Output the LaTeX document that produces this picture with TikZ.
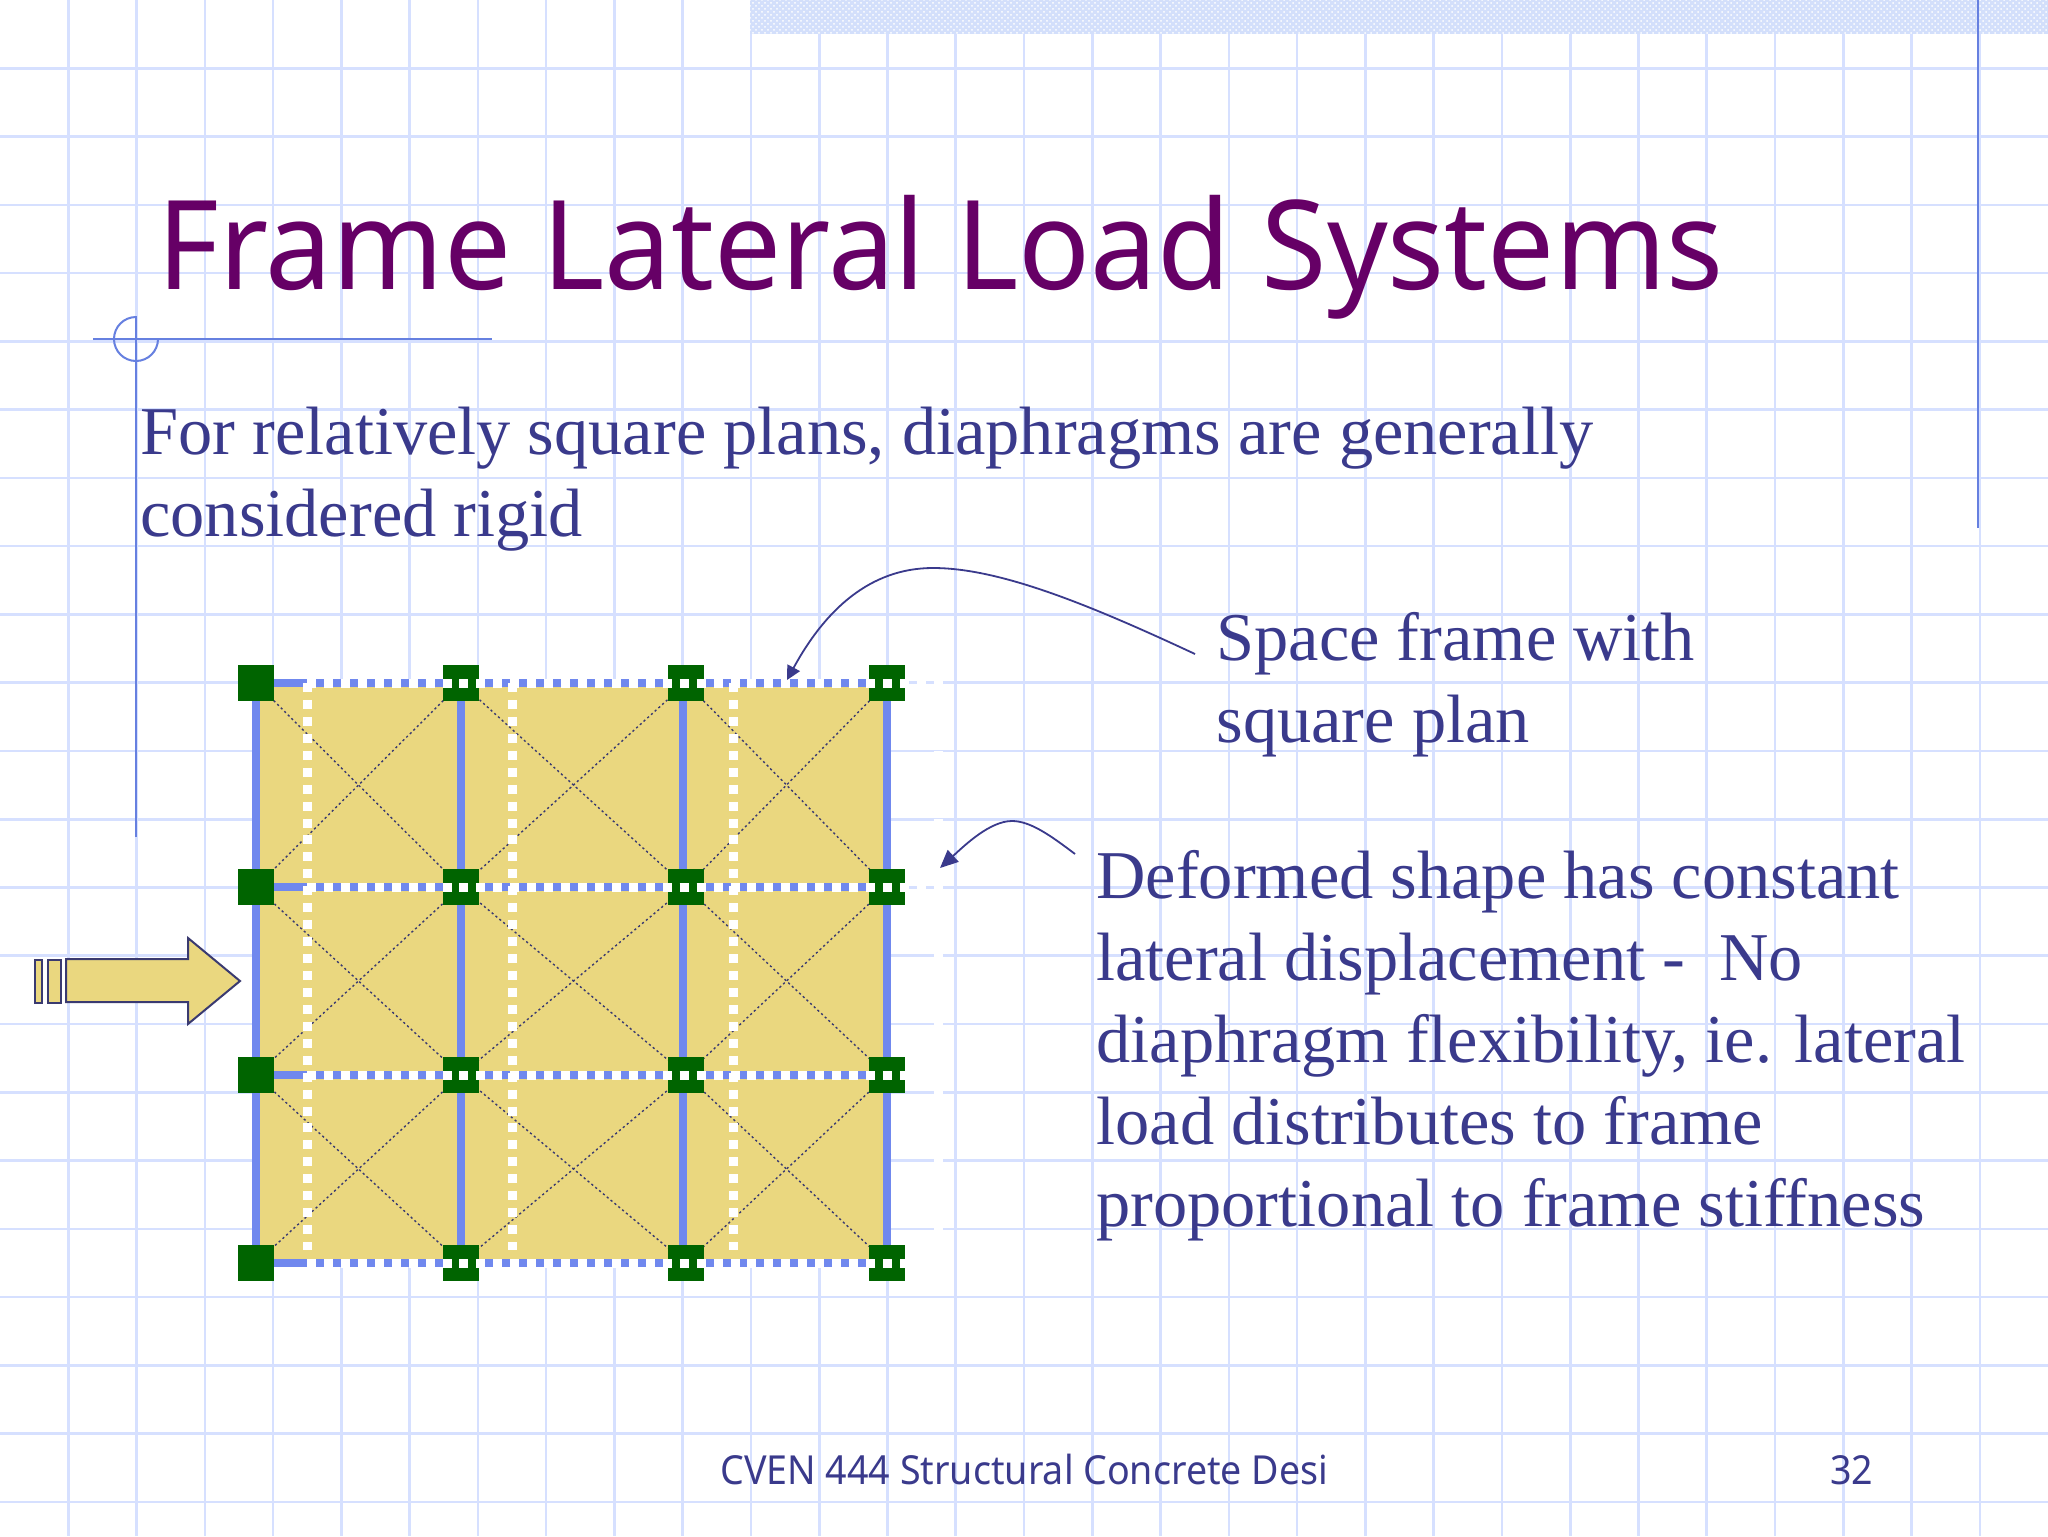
\documentclass[tikz,border=0pt]{standalone}
\usepackage{fontspec}
\usepackage{tikz}
\usetikzlibrary{arrows.meta,patterns}
\setmainfont{Liberation Serif}
\newfontfamily\slidesans[FakeStretch=0.96]{Noto Sans}
\newfontfamily\footsans[FakeStretch=0.94]{Noto Sans}
\definecolor{gridblue}{HTML}{D6E0FF}
\definecolor{bandblue}{HTML}{D3DFFB}
\definecolor{guideblue}{HTML}{6680E0}
\definecolor{frameblue}{HTML}{7088EE}
\definecolor{plansand}{HTML}{EAD77F}
\definecolor{jointgreen}{HTML}{006400}
\definecolor{inkblue}{HTML}{3A3A8C}
\definecolor{titleplum}{HTML}{660066}
\definecolor{loadink}{HTML}{3A3A70}
\pgfdeclarelayer{paper}
\pgfdeclarelayer{frame}
\pgfsetlayers{paper,frame,main}
\tikzstyle{gridline} = [draw=gridblue, line width=1.3pt]
\tikzstyle{guide} = [draw=guideblue, line width=1pt]
\tikzstyle{joint} = [fill=jointgreen, minimum size=18pt, inner sep=0pt]
\tikzstyle{member} = [draw=frameblue, line width=4.3pt]
\tikzstyle{brace} = [draw=loadink, line width=0.7pt, dash pattern=on 1.1pt off 1.4pt]
\tikzstyle{whitedash} = [draw=white, line width=4.5pt, dash pattern=on 4.5pt off 3.97pt]
\tikzstyle{loadbar} = [draw=loadink, line width=1pt, fill=plansand]
\tikzstyle{callout} = [draw=inkblue, line width=0.9pt]
\tikzstyle{body} = [text=inkblue, inner sep=0pt, anchor=north west, align=left, font={\fontsize{34.2}{41}\selectfont}]
\tikzstyle{foot} = [text=inkblue, inner sep=0pt, anchor=base west, font={\footsans\fontsize{20}{24}\selectfont}]

\begin{document}
\begin{tikzpicture}[x=0.5pt,y=-0.5pt]
        \useasboundingbox (0,0) rectangle (2048,1536);
        % sheet
        \begin{pgfonlayer}{paper}
        \fill[white] (0,0) rectangle (2048,1536);
        \foreach \k in {1,...,29} \draw[gridline] (\k*68.27,0) -- (\k*68.27,1536);
        \foreach \k in {1,...,22} \draw[gridline] (0,\k*68.27) -- (2048,\k*68.27);
        \fill[bandblue] (750,0) rectangle (2048,34);
        \fill[pattern=crosshatch dots, pattern color=white] (750,0) rectangle (2048,34);
        \draw[guide] (93,339) -- (492,339);
        \draw[guide] (136,316) -- (136,837);
        \draw[guide] (136,317) arc (270:0:22);
        \draw[guide] (1978,0) -- (1978,528);
        \end{pgfonlayer}
        % title and text
        \node[inner sep=0pt, anchor=base west, text=titleplum, font={\slidesans\fontsize{62}{70}\selectfont}](title) at (157,289){Frame Lateral Load Systems};
        \node[body](intro) at (140,407){For relatively square plans, diaphragms are generally\\considered rigid};
        \node[body](space) at (1216,612){Space frame with\\square plan};
        \node[body](deformed) at (1096,850){Deformed shape has constant\\lateral displacement -\ \ No\\diaphragm flexibility, ie. lateral\\load distributes to frame\\proportional to frame stiffness};
        % joints
        \node[joint](j11) at (256,683){};
        \node[joint](j12) at (461,683){};
        \node[joint](j13) at (686,683){};
        \node[joint](j14) at (887,683){};
        \node[joint](j21) at (256,887){};
        \node[joint](j22) at (461,887){};
        \node[joint](j23) at (686,887){};
        \node[joint](j24) at (887,887){};
        \node[joint](j31) at (256,1075){};
        \node[joint](j32) at (461,1075){};
        \node[joint](j33) at (686,1075){};
        \node[joint](j34) at (887,1075){};
        \node[joint](j41) at (256,1263){};
        \node[joint](j42) at (461,1263){};
        \node[joint](j43) at (686,1263){};
        \node[joint](j44) at (887,1263){};
        % frame below the joints
        \begin{pgfonlayer}{frame}
        \fill[plansand] (j11.center) rectangle (j44.center);
        \draw[brace] (j11.center)--(j22.center);\draw[brace] (j12.center)--(j21.center);
        \draw[brace] (j12.center)--(j23.center);\draw[brace] (j13.center)--(j22.center);
        \draw[brace] (j13.center)--(j24.center);\draw[brace] (j14.center)--(j23.center);
        \draw[brace] (j21.center)--(j32.center);\draw[brace] (j22.center)--(j31.center);
        \draw[brace] (j22.center)--(j33.center);\draw[brace] (j23.center)--(j32.center);
        \draw[brace] (j23.center)--(j34.center);\draw[brace] (j24.center)--(j33.center);
        \draw[brace] (j31.center)--(j42.center);\draw[brace] (j32.center)--(j41.center);
        \draw[brace] (j32.center)--(j43.center);\draw[brace] (j33.center)--(j42.center);
        \draw[brace] (j33.center)--(j44.center);\draw[brace] (j34.center)--(j43.center);
        \draw[member] (j11.center)--(j14.center);
        \draw[member] (j21.center)--(j24.center);
        \draw[member] (j31.center)--(j34.center);
        \draw[member] (j41.center)--(j44.center);
        \draw[member] (j11.center)--(j41.center);
        \draw[member] (j12.center)--(j42.center);
        \draw[member] ([xshift=-1.5pt]j13.center)--([xshift=-1.5pt]j43.center);
        \draw[member] (j14.center)--(j44.center);
        \end{pgfonlayer}
        % white dots on top
        \foreach \y in {683,887,1075,1263} \draw[whitedash] (307,\y) -- (943,\y);
        \foreach \x in {307,512,733,938} \draw[whitedash] (\x,683) -- (\x,1250);
        % load arrow
        \node[loadbar, inner sep=0pt, minimum width=3.5pt, minimum height=21.5pt, anchor=west](bar1) at (33.5,981){};
        \node[loadbar, inner sep=0pt, minimum width=6.75pt, minimum height=21.5pt, anchor=west](bar2) at (46.5,981){};
        \draw[loadbar] (66,959) -- (188,959) -- (188,938) -- (240,981) -- (188,1024) -- (188,1002) -- (66,1002) -- cycle;
        % callouts
        \coordinate (from1) at (1195,654);
        \coordinate (to1) at (787,680);
        \coordinate (from2) at (1075,854);
        \coordinate (to2) at (940,868);
        \draw[callout,-{Triangle[length=7pt,width=7pt]}] (from1) .. controls (1090,605) and (1000,568) .. (933,568) .. controls (870,568) and (825,610) .. (to1);
        \draw[callout,-{Triangle[length=9pt,width=8pt]}] (from2) .. controls (1050,835) and (1030,821) .. (1012,821) .. controls (990,821) and (965,845) .. (to2);
        % footer
        \begin{scope}
        \clip (700,1440) rectangle (1328,1510);
        \node[foot](course) at (720,1484){CVEN 444 Structural Concrete Desi};
        \end{scope}
        \node[foot](page) at (1830,1484){32};
      \end{tikzpicture}
\end{document}
